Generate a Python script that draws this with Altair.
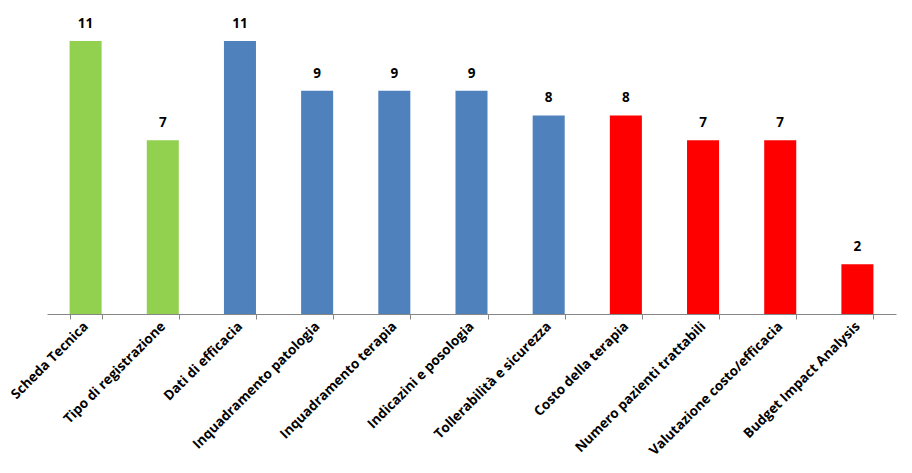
import altair as alt
import pandas as pd

categories = ["Scheda Tecnica", "Tipo di registrazione", "Dati di efficacia",
              "Inquadramento patologia", "Inquadramento terapia", "Indicazini e posologia",
              "Tollerabilità e sicurezza", "Costo della terapia", "Numero pazienti trattabili",
              "Valutazione costo/efficacia", "Budget Impact Analysis"]
values = [11, 7, 11, 9, 9, 9, 8, 8, 7, 7, 2]
groups = ["A", "A", "B", "B", "B", "B", "B", "C", "C", "C", "C"]
group_colors = {"A": "#92D050", "B": "#4F81BD", "C": "#FF0000"}

df = pd.DataFrame({"cat": categories, "val": values, "grp": groups})

FONT = "Open Sans"

x = alt.X("cat:N", sort=categories, title=None,
          scale=alt.Scale(paddingInner=0.585, paddingOuter=0.2925),
          axis=alt.Axis(labelAngle=-45, labelAlign="right", labelBaseline="middle",
                        labelFont=FONT, labelFontSize=13.5, labelFontWeight="bold",
                        labelColor="#000000", labelPadding=5, labelLimit=300,
                        tickBand="extent", tickSize=5, tickColor="#868686",
                        domainColor="#868686", domainWidth=1, tickWidth=1))
y = alt.Y("val:Q", scale=alt.Scale(domain=[0, 11]), axis=None, title=None)

bars = alt.Chart(df).mark_bar().encode(
    x=x, y=y,
    color=alt.Color("grp:N", scale=alt.Scale(domain=list(group_colors.keys()),
                                             range=list(group_colors.values())), legend=None)
)
text = alt.Chart(df).mark_text(baseline="alphabetic", dy=-13, font=FONT,
                               fontSize=13.5, fontWeight="bold", color="#000000").encode(
    x=alt.X("cat:N", sort=categories), y=y, text="val:Q")

chart = (bars + text).properties(
    width=849, height=273,
    padding={"left": 47, "top": 41, "right": 16, "bottom": 159},
    autosize=alt.AutoSizeParams(type="none"),
    background="white",
).configure_view(stroke=None)

chart.save("out.html", embed_options={"renderer": "svg", "actions": False})
